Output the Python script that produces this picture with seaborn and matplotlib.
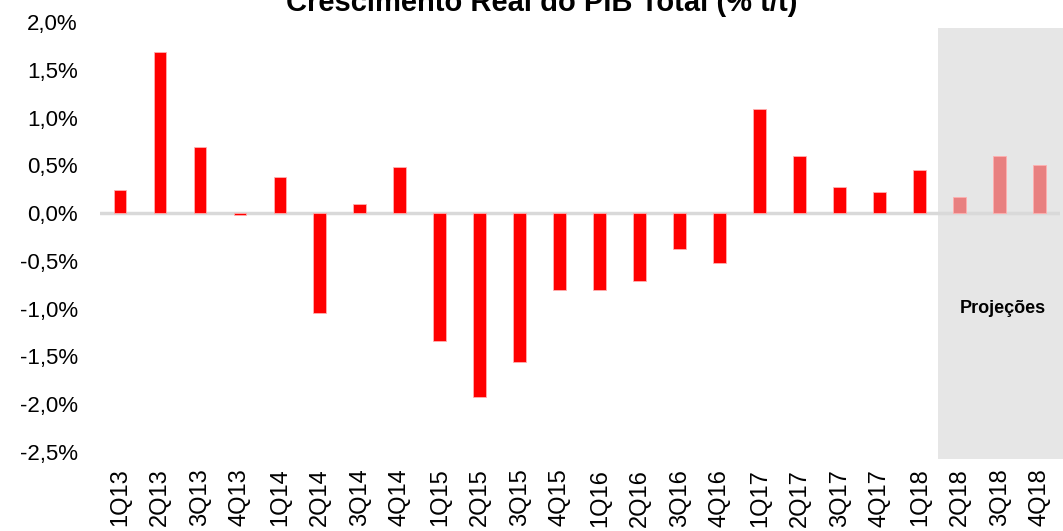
import numpy as np
import pandas as pd
import matplotlib
matplotlib.use("Agg")
import matplotlib.pyplot as plt
import seaborn as sns
from matplotlib.patches import Rectangle

# quarterly real GDP growth (% q/q), last three are projections
quarters = ["1Q13", "2Q13", "3Q13", "4Q13", "1Q14", "2Q14", "3Q14", "4Q14",
            "1Q15", "2Q15", "3Q15", "4Q15", "1Q16", "2Q16", "3Q16", "4Q16",
            "1Q17", "2Q17", "3Q17", "4Q17", "1Q18", "2Q18", "3Q18", "4Q18"]
growth = [0.24, 1.69, 0.69, -0.02, 0.38, -1.05, 0.10, 0.48,
          -1.34, -1.92, -1.56, -0.80, -0.80, -0.71, -0.38, -0.52,
          1.09, 0.60, 0.27, 0.22, 0.45, 0.17, 0.60, 0.50]
kind = ["Realizado"] * 21 + ["Projeção"] * 3
yticks = [2.0, 1.5, 1.0, 0.5, 0.0, -0.5, -1.0, -1.5, -2.0, -2.5]

df = pd.DataFrame({"trimestre": quarters, "pib": growth, "tipo": kind})

sns.set_style("white")
plt.rcParams["font.family"] = ["Liberation Sans", "DejaVu Sans"]
plt.rcParams["text.color"] = "black"
plt.rcParams["xtick.color"] = "black"
plt.rcParams["ytick.color"] = "black"

fig = plt.figure(figsize=(10.63, 5.31), dpi=100)
ax = fig.add_axes([0.094, 0.1488, 0.903, 0.8098])

# projections area
ax.add_patch(Rectangle((20.45, -2.57), 3.3, 4.51, facecolor="#e6e6e6",
                       edgecolor="none", zorder=0, clip_on=False))

sns.barplot(data=df, x="trimestre", y="pib", hue="tipo", dodge=False,
            palette={"Realizado": "#ff0000", "Projeção": "#e88080"},
            saturation=1, width=0.32, legend=False, ax=ax, zorder=2,
            edgecolor="#ffb0b0", linewidth=0.6)

ax.axhline(0, color="#d9d9d9", lw=2.5, zorder=1)
ax.set_ylim(-2.5, 2.0)
ax.set_xlim(-0.5, len(quarters) - 0.5)
ax.set_yticks(yticks)
ax.set_yticklabels([f"{v:.1f}%".replace(".", ",") for v in yticks], fontsize=16)
ax.tick_params(axis="x", labelrotation=90, labelsize=17, pad=12, length=0)
ax.tick_params(axis="y", pad=16, length=0)
ax.set_xlabel("")
ax.set_ylabel("")
for s in ax.spines.values():
    s.set_visible(False)
ax.patch.set_alpha(0)

ax.text(22.08, -1.0, "Projeções", ha="center", va="center",
        fontsize=13, fontweight="bold")
fig.text(0.51, 0.995, "Crescimento Real do PIB Total (% t/t)", ha="center",
         va="center", fontsize=21, fontweight="bold")

fig.savefig("out.png", dpi=100)
